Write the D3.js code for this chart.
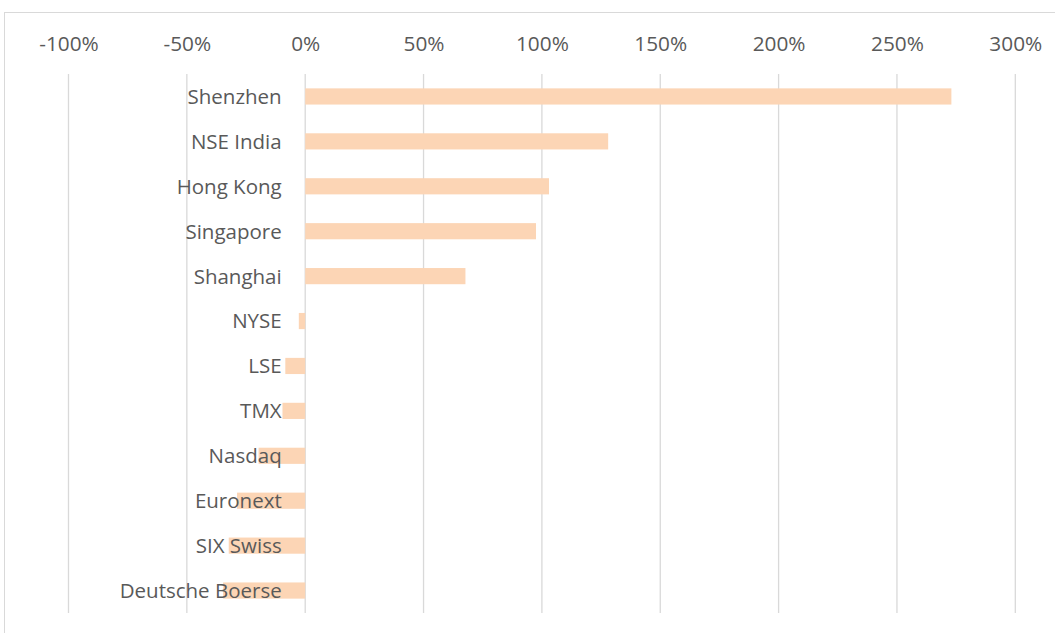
<!DOCTYPE html>
<html>
<head>
<meta charset="utf-8">
<script src="https://cdn.jsdelivr.net/npm/d3@7"></script>
<style>
html,body{margin:0;padding:0;background:#fff;}
svg{display:block;}
</style>
</head>
<body>
<script>
const categories = ["Shenzhen","NSE India","Hong Kong","Singapore","Shanghai","NYSE","LSE","TMX","Nasdaq","Euronext","SIX Swiss","Deutsche Boerse"];
const values = [2.73, 1.28, 1.03, 0.975, 0.677, -0.027, -0.084, -0.096, -0.197, -0.288, -0.323, -0.347];
const tickValues = [-1, -0.5, 0, 0.5, 1, 1.5, 2, 2.5, 3];
const tickLabels = ["-100%","-50%","0%","50%","100%","150%","200%","250%","300%"];

const W = 1055, H = 633;
const svg = d3.select("body").append("svg").attr("width", W).attr("height", H);

svg.append("rect").attr("x", 4.5).attr("y", 12.5).attr("width", 1080).attr("height", 700)
  .attr("fill", "#fff").attr("stroke", "#d9d9d9").attr("stroke-width", 1);

const x = d3.scaleLinear().domain([-1, 3]).range([68.5, 1015.3]);
const y = d3.scaleBand().domain(categories).range([74, 613]).paddingInner(0.64).paddingOuter(0.32);

// gridlines
svg.append("g").selectAll("line").data(tickValues).join("line")
  .attr("x1", d => x(d)).attr("x2", d => x(d)).attr("y1", 74).attr("y2", 613)
  .attr("stroke", "#d9d9d9").attr("stroke-width", 1.3);

// top axis labels
const axis = d3.axisTop(x).tickValues(tickValues).tickFormat((d, i) => tickLabels[i]).tickSize(0).tickPadding(0);
const ag = svg.append("g").attr("transform", "translate(0,51)").call(axis);
ag.select(".domain").remove();
ag.selectAll("text").attr("font-family", "'Open Sans', sans-serif").attr("font-size", "20.8px")
  .attr("fill", "#595959").attr("dy", "0");

// bars
svg.append("g").selectAll("rect").data(values).join("rect")
  .attr("x", d => x(Math.min(0, d)))
  .attr("width", d => Math.abs(x(d) - x(0)))
  .attr("y", (d, i) => y(categories[i]))
  .attr("height", y.bandwidth())
  .attr("fill", "#fcd5b5");

// category labels
svg.append("g").selectAll("text").data(categories).join("text")
  .attr("x", x(0) - 23.5)
  .attr("y", d => y(d) + y.bandwidth() / 2)
  .attr("dy", "0.36em")
  .attr("text-anchor", "end")
  .attr("font-family", "'Open Sans', sans-serif").attr("font-size", "20.5px")
  .attr("fill", "#595959")
  .text(d => d);
</script>
</body>
</html>
